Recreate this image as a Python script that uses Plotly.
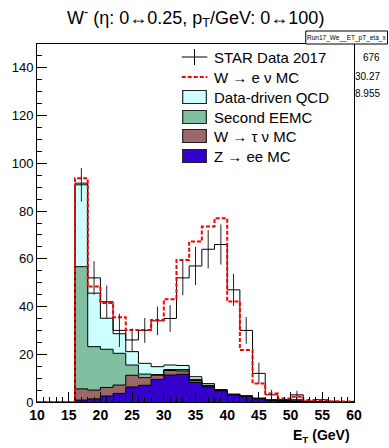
import numpy as np
import plotly.graph_objects as go

# ---------------- data (2 GeV bins, 16 -> 60 GeV) ----------------
bin_low = [16, 18, 20, 22, 24, 26, 28, 30, 32, 34, 36, 38, 40, 42, 44, 46, 48, 50, 52, 54, 56, 58]
star_data = [91, 52, 42, 30, 26, 30, 34, 35, 52, 57, 64, 66, 47, 30, 12, 3, 1, 3, 0, 1, 0, 0]
star_err = [7, 7, 6.8, 7, 4.8, 5.2, 6, 5.6, 7.3, 8, 8, 8.4, 6.7, 5.6, 4.5, 2.1, 1, 1.7, 0, 1, 0, 0]
z_ee = [0.8, 1.3, 2.5, 3.6, 6.3, 7.0, 9.5, 11.3, 11.6, 8.2, 6.4, 4.7, 3.0, 2.3, 1.4, 0.7, 0.4, 0.3, 0.2, 0.1, 0.1, 0.05]
w_taunu = [4.7, 3.7, 3.6, 3.5, 4.9, 3.2, 1.7, 1.9, 1.4, 0.8, 0.4, 0.2, 0.1, 0.1, 0.1, 0.05, 0.05, 0.05, 0.05, 0.05, 0, 0]
second_eemc = [51.2, 18.2, 16.0, 13.3, 4.3, 1.5, 0.3, 0.4, 0.6, 0.5, 0.2, 0.1, 0.1, 0.1, 0, 0.05, 0.15, 0.45, 0.05, 0.05, 0, 0]
qcd = [35.0, 22.4, 13.0, 8.2, 5.6, 4.5, 3.3, 1.9, 1.7, 1.1, 0.7, 0.2, 0.1, 0.1, 0.1, 0.1, 0.1, 0.1, 0, 0, 0, 0]
w_enu_total = [93.8, 48.4, 41.5, 35.5, 30.2, 30.2, 34.4, 43.1, 59.5, 67.2, 73.5, 77.0, 42.1, 21.8, 7.8, 3.6, 1.5, 2.2, 0.8, 0.8, 0.3, 0.2]
empty_low = [10, 12, 14]
bin_width = 2

legend_labels = ["STAR Data 2017", "W \u2192 e \u03bd MC", "Data-driven QCD", "Second EEMC",
                 "W \u2192 \u03c4 \u03bd MC", "Z \u2192 ee MC"]
stats_name = "Run17_We__ET_pT_eta_x"
stats_values = ["676", "30.27", "8.955"]

# ---------------- helpers ----------------
W, H = 389, 448
L, R, T, B = 32, 35, 44, 46
PW, PH = W - L - R, H - T - B


def px(X):
    return (X - L) / PW


def py(Y):
    return (H - B - Y) / PH


def step(lows, vals, lead_zero_lows=()):
    if lead_zero_lows:
        xs = list(lead_zero_lows)
        ys = [0] * len(lead_zero_lows)
    else:
        xs = [lows[0]]
        ys = [0]
    for lo, v in zip(lows, vals):
        xs.append(lo)
        ys.append(v)
    xs.append(lows[-1] + bin_width)
    ys.append(vals[-1])
    xs.append(lows[-1] + bin_width)
    ys.append(0)
    return xs, ys


c1 = np.array(z_ee)
c2 = c1 + np.array(w_taunu)
c3 = c2 + np.array(second_eemc)
c4 = c3 + np.array(qcd)

col_qcd = "#ccffff"
col_eemc = "#80bfa0"
col_tau = "#9a6868"
col_z = "#3300cc"

fig = go.Figure()
for cum, col in [(c4, col_qcd), (c3, col_eemc), (c2, col_tau), (c1, col_z)]:
    xs, ys = step(bin_low, list(cum))
    fig.add_trace(go.Scatter(x=xs, y=ys, mode="lines", line=dict(shape="hv", color="black", width=1),
                             fill="tozeroy", fillcolor=col, showlegend=False, hoverinfo="skip"))

xs, ys = step(bin_low, star_data, empty_low)
fig.add_trace(go.Scatter(x=xs, y=ys, mode="lines", line=dict(shape="hv", color="black", width=1),
                         showlegend=False))

xs, ys = step(bin_low, w_enu_total, empty_low)
fig.add_trace(go.Scatter(x=xs, y=ys, mode="lines",
                         line=dict(shape="hv", color="#ff0000", width=2, dash="4px,2px"),
                         showlegend=False))

centers = [lo + bin_width / 2 for lo in bin_low]
fig.add_trace(go.Scatter(x=centers, y=star_data, mode="markers", marker=dict(size=1, color="black"),
                         error_y=dict(type="data", array=star_err, color="#222222", thickness=1, width=0),
                         showlegend=False))

font = "Liberation Sans, Arial, Helvetica, sans-serif"

fig.update_layout(
    width=W, height=H, margin=dict(l=L, r=R, t=T, b=B),
    paper_bgcolor="white", plot_bgcolor="white",
    font=dict(family=font, color="black"),
    xaxis=dict(range=[10, 60], dtick=5, tick0=10, ticks="inside", ticklen=10, tickcolor="black",
               showline=True, linecolor="black", linewidth=1, mirror=True, showgrid=False, zeroline=False,
               tickfont=dict(size=14, weight="bold"),
               minor=dict(dtick=1, ticks="inside", ticklen=5, tickcolor="black")),
    yaxis=dict(range=[0, 150], dtick=20, tick0=0, ticks="inside", ticklen=10, tickcolor="black",
               showline=True, linecolor="black", linewidth=1, mirror=True, showgrid=False, zeroline=False,
               tickfont=dict(size=13),
               minor=dict(dtick=5, ticks="inside", ticklen=5, tickcolor="black")),
)

shapes = []
ann = []

# title
ann.append(dict(text="W<sup>-</sup> (\u03b7: 0\u21940.25, p<sub>T</sub>/GeV: 0\u2194100)",
                x=px(193), y=py(17), xref="paper", yref="paper", showarrow=False,
                xanchor="center", yanchor="middle", font=dict(size=18)))
# x title
ann.append(dict(text="<b>E<sub>T</sub> (GeV)</b>", x=px(352), y=py(436), xref="paper", yref="paper",
                showarrow=False, xanchor="right", yanchor="middle", font=dict(size=14)))

# legend
rows = [57, 77, 97, 117, 136, 156]
sx0, sx1 = 179, 205
shapes.append(dict(type="line", xref="paper", yref="paper", x0=px(sx0), x1=px(sx1), y0=py(rows[0]), y1=py(rows[0]),
                   line=dict(color="black", width=1)))
shapes.append(dict(type="line", xref="paper", yref="paper", x0=px(192), x1=px(192), y0=py(rows[0] - 8),
                   y1=py(rows[0] + 8), line=dict(color="black", width=1)))
shapes.append(dict(type="line", xref="paper", yref="paper", x0=px(sx0), x1=px(sx1), y0=py(rows[1]), y1=py(rows[1]),
                   line=dict(color="#ff0000", width=2, dash="4px,2px")))
for r, col in zip(rows[2:], [col_qcd, col_eemc, col_tau, col_z]):
    shapes.append(dict(type="rect", xref="paper", yref="paper", x0=px(180), x1=px(204),
                       y0=py(r + 6.5), y1=py(r - 6.5), fillcolor=col, line=dict(color="#222222", width=1.2)))
for r, lab in zip(rows, legend_labels):
    ann.append(dict(text=lab, x=px(210), y=py(r), xref="paper", yref="paper", showarrow=False,
                    xanchor="left", yanchor="middle", font=dict(size=15)))

# stats box
shapes.append(dict(type="rect", xref="paper", yref="paper", x0=px(305), x1=px(388), y0=py(44), y1=py(31),
                   fillcolor="white", line=dict(color="black", width=1)))
ann.append(dict(text=stats_name, x=px(346.5), y=py(37.5), xref="paper", yref="paper", showarrow=False,
                xanchor="center", yanchor="middle", font=dict(size=6.5)))
for r, v in zip([57, 76.5, 93.5], stats_values):
    ann.append(dict(text=v, x=px(382), y=py(r), xref="paper", yref="paper", showarrow=False,
                    xanchor="right", yanchor="middle", font=dict(size=10)))

fig.update_layout(shapes=shapes, annotations=ann)
fig.write_html("out.html")
